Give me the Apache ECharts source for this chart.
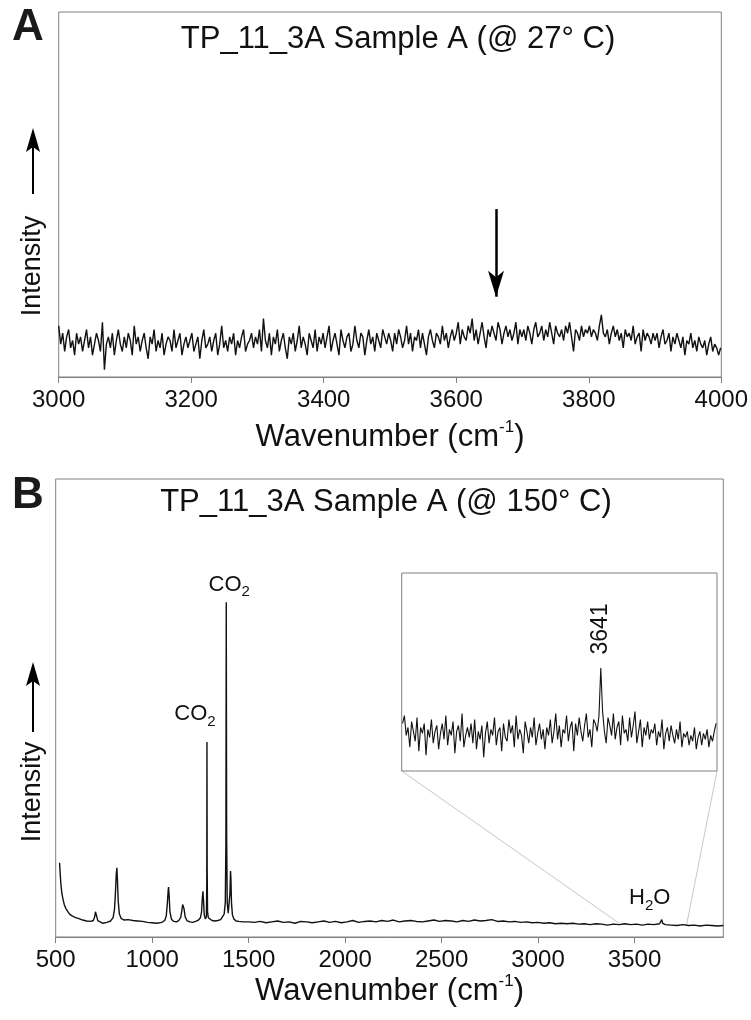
<!DOCTYPE html>
<html>
<head>
<meta charset="utf-8">
<script src="https://cdn.jsdelivr.net/npm/echarts@6/dist/echarts.min.js"></script>
<style>
html,body{margin:0;padding:0;background:#fff;}
#c{width:751px;height:1020px;}
</style>
</head>
<body>
<div id="c"></div>
<script>
// ---------------- DATA ----------------
// Panel A: 27 °C spectrum, 3000-4000 cm-1, sampled every 3 cm-1
const topStart = 3000;
const topStep = 3;
const topIntensity = [
14,9,12,7,11,13,8,10,6,12,9,11,7,10,13,8,11,6,9,12,10,7,15,2,9,11,8,12,6,10,13,9,7,11,
8,12,10,6,14,9,11,7,10,12,8,5,11,9,13,7,10,8,12,6,9,11,10,7,13,8,10,12,6,9,11,8,10,
12,7,9,11,5,10,13,8,9,11,7,10,12,6,9,14,8,10,7,11,9,12,6,10,8,11,13,7,9,10,12,8,11,
9,13,7,16,10,8,12,6,11,9,13,7,10,12,8,5,11,9,12,7,10,14,8,11,9,6,12,10,8,13,7,11,9,12,
8,11,14,7,10,12,9,6,13,10,8,11,12,7,9,14,10,8,12,11,6,10,13,9,11,7,12,10,8,13,11,9,12,
10,7,12,9,13,11,8,10,14,9,12,7,11,10,13,8,12,9,6,11,13,10,8,12,11,9,14,10,12,8,11,13,10,
12,15,9,13,11,10,14,12,16,10,13,9,12,15,11,8,13,11,14,12,10,15,13,9,12,14,11,13,10,12,15,9,13,11,
13,10,14,12,9,13,15,11,12,14,10,13,11,15,12,9,14,12,11,13,10,14,12,15,11,7,13,12,10,14,11,13,12,
14,11,13,12,10,14,17,12,11,13,9,12,14,11,13,10,12,8,13,11,12,10,14,9,11,12,7,13,10,12,11,9,12,
10,12,8,11,13,9,10,12,7,11,9,12,10,8,11,6,10,9,12,8,10,7,11,9,8,10,6,9,11,7,9,8,6,8
];
const topTickLabels = [3000, 3200, 3400, 3600, 3800, 4000];
const topArrowWave = 3660;          // position marked by the arrow
const topArrowSpan = [46, 22];      // arrow from / to (intensity units)

// Panel B: 150 °C spectrum, peak region (explicit samples)
const mainWave = [
520,523,527,532,538,545,553,562,572,585,600,620,640,660,680,695,702,706,709,712,718,728,745,765,785,
798,805,810,814,817,820,824,830,840,855,875,900,925,950,975,1000,1025,1050,1065,1073,1079,1083,1085,
1088,1092,1100,1112,1125,1138,1148,1154,1158,1161,1165,1171,1180,1195,1210,1225,1240,1250,1256,1260,
1263,1266,1270,1276,1281,1283,1284,1285,1287,1291,1298,1310,1325,1340,1355,1365,1373,1379,1382,1384,
1386,1389,1394,1399,1403,1406,1408,1411,1416,1424,1435,1450,1470,1500
];
const mainIntensity = [
16.2,14,11.5,9.5,8.2,7,6.2,5.6,5,4.6,4.3,4.0,3.7,3.5,3.4,3.6,4.4,5.5,5.7,4.6,3.6,3.2,3.0,3.2,3.5,
4.3,6.2,10,13.8,15.1,12.5,7.8,5.0,4.0,3.7,3.8,3.6,3.5,3.4,3.2,3.1,3.0,3.2,3.6,4.6,7.5,10.2,10.9,
9.0,5.5,3.9,3.4,3.3,3.6,4.3,5.8,7.1,7.4,6.2,4.4,3.6,3.3,3.2,3.4,3.7,4.2,5.5,8.5,
10.0,8.0,4.8,3.9,4.5,12,42.6,15,5.5,4.2,3.8,3.6,3.5,3.6,3.8,4.2,5.0,7.5,20,73.1,
22,7.5,5.2,5.6,9.5,14.4,13,7.5,4.8,3.9,3.5,3.4,3.3,3.3
];
// Panel B: flat part 1530-3960 cm-1 every 30 cm-1
const flatStart = 1530;
const flatStep = 30;
const flatIntensity = [
3.2,3.4,3.1,3.3,3.5,3.2,3.3,3.0,3.4,3.3,3.1,
3.3,3.5,3.2,3.4,3.1,3.3,3.6,3.2,3.4,3.5,3.3,
3.6,3.4,3.7,3.3,3.5,3.6,3.4,3.3,3.5,3.7,3.4,
3.6,3.5,3.3,3.6,3.4,3.7,3.5,3.6,3.8,3.4,3.5,
3.3,3.4,3.2,3.3,3.1,3.2,3.0,3.1,2.9,3.0,2.9,
3.0,2.8,2.9,2.7,2.9,2.8,2.6,2.8,2.7,2.9,2.7,
2.8,2.6,2.8,2.7,2.9,2.7,2.6,2.5,2.7,2.5,2.6,
2.4,2.6,2.5,2.4,2.5
];
const h2oWave = [3636, 3641, 3646];
const h2oIntensity = [3.2, 3.8, 3.0];
const mainTickLabels = [500, 1000, 1500, 2000, 2500, 3000, 3500];
const mainRange = [500, 3960];

// Inset: 3420-3770 cm-1, sampled every 2 cm-1 from 3421
const insetStart = 3421;
const insetStep = 2;
const insetRange = [3420, 3770];
const insetIntensity = [
24,28,18,22,12,25,20,15,27,10,22,19,24,8,21,17,26,14,20,23,
11,19,24,16,28,13,21,18,25,9,20,23,15,29,12,18,22,17,24,14,
26,11,20,16,23,7,19,25,14,21,18,27,13,20,22,10,24,17,15,26,
19,23,12,28,16,21,18,9,25,20,14,22,17,27,13,19,24,16,21,11,
22,18,26,14,20,29,16,23,12,21,19,28,15,22,25,10,24,18,27,20,
15,23,29,17,21,12,26,24,20,28,
52,30,20,14,27,23,18,29,16,22,
25,13,28,19,21,15,27,17,23,30,14,20,26,12,22,18,25,16,21,19,
24,13,20,17,26,11,19,22,15,23,18,14,21,16,25,12,19,17,20,13,
18,15,22,11,17,20,13,19,16,21,12,18,15,20,24
];
const insetPeak = [3641, 52];
const co2Peaks = [[1284, 42.6], [1384, 73.1]];
const h2oPeak = [3641, 3.8];

// ---------------- BUILD ----------------
const FONT = '"Liberation Sans", Arial, Helvetica, sans-serif';
const NARROW = '"Liberation Sans Narrow", "Arial Narrow", "Liberation Sans", sans-serif';
const FRAME = '#808080';
const INK = '#111';

const topData = topIntensity.map((v, i) => [topStart + i * topStep, v]);
const mainData = mainWave.map((w, i) => [w, mainIntensity[i]])
  .concat(flatIntensity.map((v, i) => [flatStart + i * flatStep, v]))
  .concat(h2oWave.map((w, i) => [w, h2oIntensity[i]]))
  .sort((a, b) => a[0] - b[0]);
const insetData = insetIntensity.map((v, i) => [insetStart + i * insetStep, v]);

const supRich = {
  sup: {fontSize: 17, fontFamily: FONT, color: INK, verticalAlign: 'top', lineHeight: 16}
};
const subRich = {
  sub: {fontSize: 15, fontFamily: FONT, color: INK, verticalAlign: 'bottom', lineHeight: 12}
};
const plain = v => String(v);

function xAxisStyle(extra) {
  return Object.assign({
    type: 'value',
    axisLine: {show: true, lineStyle: {color: FRAME, width: 1}},
    axisTick: {show: true, inside: false, length: 6, lineStyle: {color: FRAME, width: 1}},
    axisLabel: {fontSize: 24, fontFamily: FONT, color: INK, margin: 11, formatter: plain},
    splitLine: {show: false},
    name: 'Wavenumber (cm{sup|-1})',
    nameLocation: 'middle',
    nameTextStyle: {fontSize: 31, fontFamily: FONT, color: INK, lineHeight: 36, rich: supRich}
  }, extra);
}

const staticGraphics = [
  {type: 'text', x: 28, y: 28, style: {text: 'A', font: 'bold 44px ' + NARROW, fill: '#1a1a1a', textAlign: 'center', textVerticalAlign: 'middle'}},
  {type: 'text', x: 28, y: 496, style: {text: 'B', font: 'bold 44px ' + NARROW, fill: '#1a1a1a', textAlign: 'center', textVerticalAlign: 'middle'}},
  {type: 'text', x: 398, y: 39, style: {text: 'TP_11_3A Sample A (@ 27° C)', font: '31px ' + FONT, fill: INK, textAlign: 'center', textVerticalAlign: 'middle'}},
  {type: 'text', x: 386, y: 502, style: {text: 'TP_11_3A Sample A (@ 150° C)', font: '31px ' + FONT, fill: INK, textAlign: 'center', textVerticalAlign: 'middle'}},
  // Intensity labels with upward arrows
  {type: 'text', x: 33, y: 266, rotation: Math.PI / 2, style: {text: 'Intensity', font: '27px ' + FONT, fill: INK, textAlign: 'center', textVerticalAlign: 'middle'}},
  {type: 'line', shape: {x1: 33, y1: 194, x2: 33, y2: 146}, style: {stroke: '#000', lineWidth: 2}},
  {type: 'polygon', shape: {points: [[33, 128], [26, 152], [33, 147], [40, 152]]}, style: {fill: '#000'}},
  {type: 'text', x: 33, y: 792, rotation: Math.PI / 2, style: {text: 'Intensity', font: '27px ' + FONT, fill: INK, textAlign: 'center', textVerticalAlign: 'middle'}},
  {type: 'line', shape: {x1: 33, y1: 732, x2: 33, y2: 680}, style: {stroke: '#000', lineWidth: 2}},
  {type: 'polygon', shape: {points: [[33, 662], [26, 686], [33, 681], [40, 686]]}, style: {fill: '#000'}}
];

const option = {
  animation: false,
  backgroundColor: '#fff',
  grid: [
    {left: 58.7, top: 12, width: 664.3, height: 365, show: true, borderColor: FRAME, borderWidth: 1},
    {left: 55.7, top: 479, width: 667.6, height: 458, show: true, borderColor: FRAME, borderWidth: 1},
    {left: 401.7, top: 573, width: 315.3, height: 198, show: true, borderColor: FRAME, borderWidth: 1, backgroundColor: '#fff', z: 4}
  ],
  xAxis: [
    xAxisStyle({gridIndex: 0, min: topTickLabels[0], max: topTickLabels[topTickLabels.length - 1], interval: 200, nameGap: 42}),
    xAxisStyle({gridIndex: 1, min: mainRange[0], max: mainRange[1], interval: 500, nameGap: 36,
      axisTick: {show: true, length: 6, lineStyle: {color: FRAME, width: 1}, customValues: mainTickLabels},
      axisLabel: {fontSize: 24, fontFamily: FONT, color: INK, margin: 11, formatter: plain, customValues: mainTickLabels}}),
    {gridIndex: 2, type: 'value', min: insetRange[0], max: insetRange[1], show: false}
  ],
  yAxis: [
    {gridIndex: 0, type: 'value', min: 0, max: 100, show: false},
    {gridIndex: 1, type: 'value', min: 0, max: 100, show: false},
    {gridIndex: 2, type: 'value', min: 0, max: 100, show: false}
  ],
  series: [
    {
      type: 'line', xAxisIndex: 0, yAxisIndex: 0, data: topData, showSymbol: false,
      lineStyle: {color: INK, width: 1.4}, silent: true,
      markLine: {
        silent: true, symbol: ['none', 'arrow'], symbolSize: [12, 26],
        label: {show: false},
        lineStyle: {color: '#000', width: 2.5, type: 'solid'},
        data: [[{coord: [topArrowWave, topArrowSpan[0]]}, {coord: [topArrowWave, topArrowSpan[1]]}]]
      }
    },
    {
      type: 'line', xAxisIndex: 1, yAxisIndex: 1, data: mainData, showSymbol: false,
      lineStyle: {color: INK, width: 1.4}, silent: true,
      markPoint: {
        silent: true, symbol: 'circle', symbolSize: 1, itemStyle: {color: 'rgba(0,0,0,0)'},
        data: [
          {coord: co2Peaks[1], label: {show: true, formatter: 'CO{sub|2}', position: 'top', distance: 2, offset: [3, 0],
            fontSize: 22, fontFamily: FONT, color: INK, lineHeight: 30, rich: subRich}},
          {coord: co2Peaks[0], label: {show: true, formatter: 'CO{sub|2}', position: 'top', distance: 12, offset: [-12, 0],
            fontSize: 22, fontFamily: FONT, color: INK, lineHeight: 30, rich: subRich}},
          {coord: h2oPeak, label: {show: true, formatter: 'H{sub|2}O', position: 'top', distance: 6, offset: [-12, 0],
            fontSize: 22, fontFamily: FONT, color: INK, lineHeight: 30, rich: subRich}}
        ]
      }
    },
    {
      type: 'line', xAxisIndex: 2, yAxisIndex: 2, data: insetData, showSymbol: false, z: 5,
      lineStyle: {color: INK, width: 1.1}, silent: true,
      markPoint: {
        silent: true, symbol: 'circle', symbolSize: 1, itemStyle: {color: 'rgba(0,0,0,0)'},
        data: [
          {coord: insetPeak, label: {show: true, formatter: String(insetPeak[0]), position: 'top', distance: 13,
            rotate: 90, align: 'left', verticalAlign: 'middle', fontSize: 23, fontFamily: FONT, color: INK}}
        ]
      }
    }
  ],
  graphic: staticGraphics
};

const chart = echarts.init(document.getElementById('c'));
chart.setOption(option);

// Zoom guide lines from the inset corners down to the spectrum
const zoomFrom = [
  chart.convertToPixel({xAxisIndex: 2, yAxisIndex: 2}, [insetRange[0], 0]),
  chart.convertToPixel({xAxisIndex: 2, yAxisIndex: 2}, [insetRange[1], 0])
];
const zoomTo = [
  chart.convertToPixel({xAxisIndex: 1, yAxisIndex: 1}, [insetRange[0], 3.0]),
  chart.convertToPixel({xAxisIndex: 1, yAxisIndex: 1}, [insetRange[1], 2.7])
];
const zoomLines = zoomFrom.map((p, i) => ({
  type: 'line', z: 1,
  shape: {x1: p[0], y1: p[1], x2: zoomTo[i][0], y2: zoomTo[i][1]},
  style: {stroke: '#c8c8c8', lineWidth: 1}
}));
chart.setOption({graphic: staticGraphics.concat(zoomLines)});
</script>
</body>
</html>
